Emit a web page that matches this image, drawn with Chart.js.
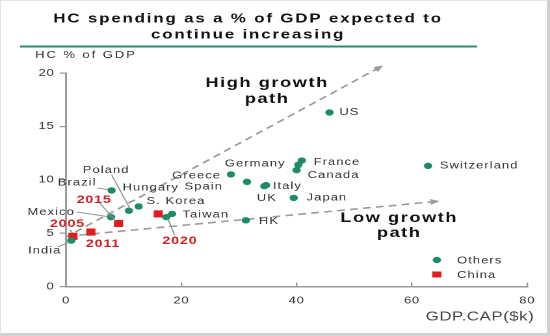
<!DOCTYPE html>
<html>
<head>
<meta charset="utf-8">
<script src="https://cdn.jsdelivr.net/npm/chart.js@4"></script>
<style>
  html, body { margin: 0; padding: 0; background: #fff; }
  #wrap { position: relative; width: 550px; height: 336px; }
  #chart { display: block; }
  #frame {
    position: absolute; left: 0; top: 0; width: 550px; height: 336px;
    box-sizing: border-box; pointer-events: none;
    border: 1px solid #e4e4e4; border-right: 3px solid #d0d0d0; border-bottom: 3px solid #d0d0d0;
  }
</style>
</head>
<body>
<div id="wrap">
  <!-- drawn at 423px wide and widened to 550px, which gives the wide lettering and oval dots -->
  <canvas id="chart" width="423" height="336" style="width:550px;height:336px"></canvas>
  <div id="frame"></div>
</div>
<script>
// GDP per capita ($k) and health care spend (% of GDP)
const othersNames = ['US', 'France', 'Germany', 'Canada', 'Greece', 'Spain', 'Italy', 'UK', 'Japan',
  'Switzerland', 'HK', 'Taiwan', 'S. Korea', 'Hungary', 'Poland', 'Brazil', 'Mexico', 'India'];
const othersGdp = [45.7, 40.9, 40.3, 40.0, 28.6, 31.4, 34.7, 34.4, 39.5, 62.8, 31.2, 18.4, 17.4, 12.6, 10.9, 7.9, 7.8, 0.9];
const othersHc = [16.3, 11.8, 11.4, 10.9, 10.5, 9.8, 9.5, 9.4, 8.3, 11.3, 6.2, 6.8, 6.5, 7.5, 7.1, 9.0, 6.5, 4.3];

const chinaYears = ['2005', '2011', '2015', '2020'];
const chinaGdp = [1.2, 4.3, 9.1, 16.0];
const chinaHc = [4.7, 5.1, 5.9, 6.8];

const xTicks = [0, 20, 40, 60, 80];
const yTicks = [0, 5, 10, 15, 20];

// growth paths, start and end in data units
const highPath = [[1.6, 5.1], [55.0, 20.7]];
const lowPath = [[0, 4.7], [64.8, 8.0]];

// label placement relative to each point: dx, dy, align, optional leader [x1,y1,x2,y2]
const othersLabelPos = [
  [7.6, 0, 'left'], [9.1, 1.5, 'left'], [-9.8, -1, 'right'], [8.5, 5, 'left'],
  [-7.6, 1.5, 'right'], [-18.5, 5, 'right'], [5.2, 1, 'left'], [-5.8, 12, 'left'],
  [9.9, 0, 'left'], [9.1, 0, 'left'], [10, 1, 'left'], [7.9, 1, 'left'],
  [-15.3, -16, 'left'], [-12.4, -18.5, 'left'],
  [-35.5, -40.5, 'left', [-13.2, -35.7, 0.6, -2.7]],
  [-41.4, -7.5, 'left', [-10.6, -2.4, -2.9, -0.9]],
  [-27.8, -5, 'right', [-26.3, -5.1, -2.5, -0.6]],
  [-33.2, 10.4, 'left', [-10.2, 6.4, -1.7, 1.4]]
];
const chinaLabelPos = [
  [-17.7, -12.3, 'left', [-2.3, -6.3, -0.4, -3.3]],
  [-3.8, 12, 'left'],
  [-32.2, -23.5, 'left', [-14.5, -20.5, -2.2, -2.5]],
  [3.2, 27, 'left', [7.1, 4.1, 12.5, 21.1]]
];

const GREEN = '#1f8a67';
const RED = '#df1d1d';
const AXIS = '#9a9a9a';

function text(ctx, s, x, y, font, color, align, spacing) {
  ctx.save();
  ctx.font = font;
  ctx.fillStyle = color;
  ctx.textAlign = align;
  ctx.textBaseline = 'middle';
  ctx.letterSpacing = spacing + 'px';
  ctx.fillText(s, x, y);
  ctx.restore();
}

function dashedArrow(ctx, xs, ys, path) {
  const x1 = xs.getPixelForValue(path[0][0]), y1 = ys.getPixelForValue(path[0][1]);
  const x2 = xs.getPixelForValue(path[1][0]), y2 = ys.getPixelForValue(path[1][1]);
  const a = Math.atan2(y2 - y1, x2 - x1);
  ctx.save();
  ctx.strokeStyle = '#9b9b9b';
  ctx.fillStyle = '#9b9b9b';
  ctx.lineWidth = 1.6;
  ctx.setLineDash([6, 4]);
  ctx.beginPath();
  ctx.moveTo(x1, y1);
  ctx.lineTo(x2 - 5 * Math.cos(a), y2 - 5 * Math.sin(a));
  ctx.stroke();
  ctx.setLineDash([]);
  ctx.beginPath();
  ctx.moveTo(x2, y2);
  ctx.lineTo(x2 - 7 * Math.cos(a) + 3 * Math.sin(a), y2 - 7 * Math.sin(a) - 3 * Math.cos(a));
  ctx.lineTo(x2 - 7 * Math.cos(a) - 3 * Math.sin(a), y2 - 7 * Math.sin(a) + 3 * Math.cos(a));
  ctx.closePath();
  ctx.fill();
  ctx.restore();
}

function pointLabels(ctx, meta, names, pos, font, color, spacing) {
  meta.data.forEach((pt, i) => {
    const p = pos[i];
    if (p[3]) {
      const l = p[3];
      ctx.save();
      ctx.strokeStyle = '#8a8a8a';
      ctx.lineWidth = 0.9;
      ctx.beginPath();
      ctx.moveTo(pt.x + l[0], pt.y + l[1]);
      ctx.lineTo(pt.x + l[2], pt.y + l[3]);
      ctx.stroke();
      ctx.restore();
    }
    text(ctx, names[i], pt.x + p[0], pt.y + p[1], font, color, p[2], spacing);
  });
}

const decorPlugin = {
  id: 'decor',
  beforeDraw(chart) {
    chart.ctx.letterSpacing = '0.5px';
  },
  beforeDatasetsDraw(chart) {
    const ctx = chart.ctx, xs = chart.scales.x, ys = chart.scales.y;
    dashedArrow(ctx, xs, ys, highPath);
    dashedArrow(ctx, xs, ys, lowPath);
  },
  afterDatasetsDraw(chart) {
    const ctx = chart.ctx;
    const area = chart.chartArea;

    // heading and rule
    text(ctx, 'HC spending as a % of GDP expected to', 190.8, 19, 'bold 13px Arial', '#111', 'center', 1.4);
    text(ctx, 'continue increasing', 190.8, 35, 'bold 13px Arial', '#111', 'center', 1.4);
    ctx.save();
    ctx.strokeStyle = '#2f8a72';
    ctx.lineWidth = 2;
    ctx.beginPath();
    ctx.moveTo(15.4, 46.5);
    ctx.lineTo(367, 46.5);
    ctx.stroke();
    ctx.restore();

    // axis titles
    text(ctx, 'HC % of GDP', 27, 55, '10px Arial', '#333', 'left', 1.5);
    text(ctx, 'GDP.CAP($k)', area.right + 5.5, 317, '13px Arial', '#444', 'right', 0.4);

    // path captions
    text(ctx, 'High growth', 205.4, 83, 'bold 14px Arial', '#111', 'center', 1.2);
    text(ctx, 'path', 205.4, 99, 'bold 14px Arial', '#111', 'center', 1.2);
    text(ctx, 'Low growth', 307, 218, 'bold 14px Arial', '#111', 'center', 1.2);
    text(ctx, 'path', 307, 233, 'bold 14px Arial', '#111', 'center', 1.2);

    // point labels
    pointLabels(ctx, chart.getDatasetMeta(0), othersNames, othersLabelPos, '10px Arial', '#333', 0.8);
    pointLabels(ctx, chart.getDatasetMeta(1), chinaYears, chinaLabelPos, 'bold 11px Arial', '#d21f1f', 0.6);

    // legend
    chart.data.datasets.forEach((ds, i) => {
      const y = 260 + i * 14.5;
      ctx.save();
      ctx.fillStyle = ds.backgroundColor;
      ctx.beginPath();
      if (ds.pointStyle === 'rect') {
        ctx.rect(332.5, y - 3, 7, 6);
      } else {
        ctx.arc(336, y, 3.2, 0, Math.PI * 2);
      }
      ctx.fill();
      ctx.restore();
      text(ctx, ds.label, 351.5, y + 0.5, '10px Arial', '#333', 'left', 0.8);
    });
  }
};

const ctx = document.getElementById('chart').getContext('2d');
const chart = new Chart(ctx, {
  type: 'scatter',
  data: {
    datasets: [{
      label: 'Others',
      data: othersGdp.map((g, i) => ({ x: g, y: othersHc[i] })),
      pointStyle: 'circle',
      pointRadius: 3.2,
      backgroundColor: GREEN,
      borderWidth: 0
    }, {
      label: 'China',
      data: chinaGdp.map((g, i) => ({ x: g, y: chinaHc[i] })),
      pointStyle: 'rect',
      pointRadius: 5,
      backgroundColor: RED,
      borderWidth: 0
    }]
  },
  options: {
    responsive: false,
    devicePixelRatio: 2,
    animation: false,
    layout: { padding: { top: 73, left: 0, right: 15.4, bottom: 0 } },
    plugins: { legend: { display: false }, tooltip: { enabled: false } },
    scales: {
      x: {
        type: 'linear',
        min: 0,
        max: 80,
        afterBuildTicks: s => { s.ticks = xTicks.map(v => ({ value: v })); },
        afterFit: s => { s.height = 49.5; },
        grid: { drawOnChartArea: false, drawTicks: true, tickLength: -4, color: AXIS, lineWidth: 1.2 },
        border: { color: AXIS, width: 1.5 },
        ticks: { padding: 12, color: '#333', font: { family: 'Arial', size: 10 } }
      },
      y: {
        type: 'linear',
        min: 0,
        max: 20,
        afterBuildTicks: s => { s.ticks = yTicks.map(v => ({ value: v })); },
        afterFit: s => { s.width = 50.8; },
        grid: { drawOnChartArea: false, drawTicks: true, tickLength: 5, color: AXIS, lineWidth: 1.2 },
        border: { color: AXIS, width: 1.5 },
        ticks: { padding: 4, color: '#333', font: { family: 'Arial', size: 10 } }
      }
    }
  },
  plugins: [decorPlugin]
});
</script>
</body>
</html>
